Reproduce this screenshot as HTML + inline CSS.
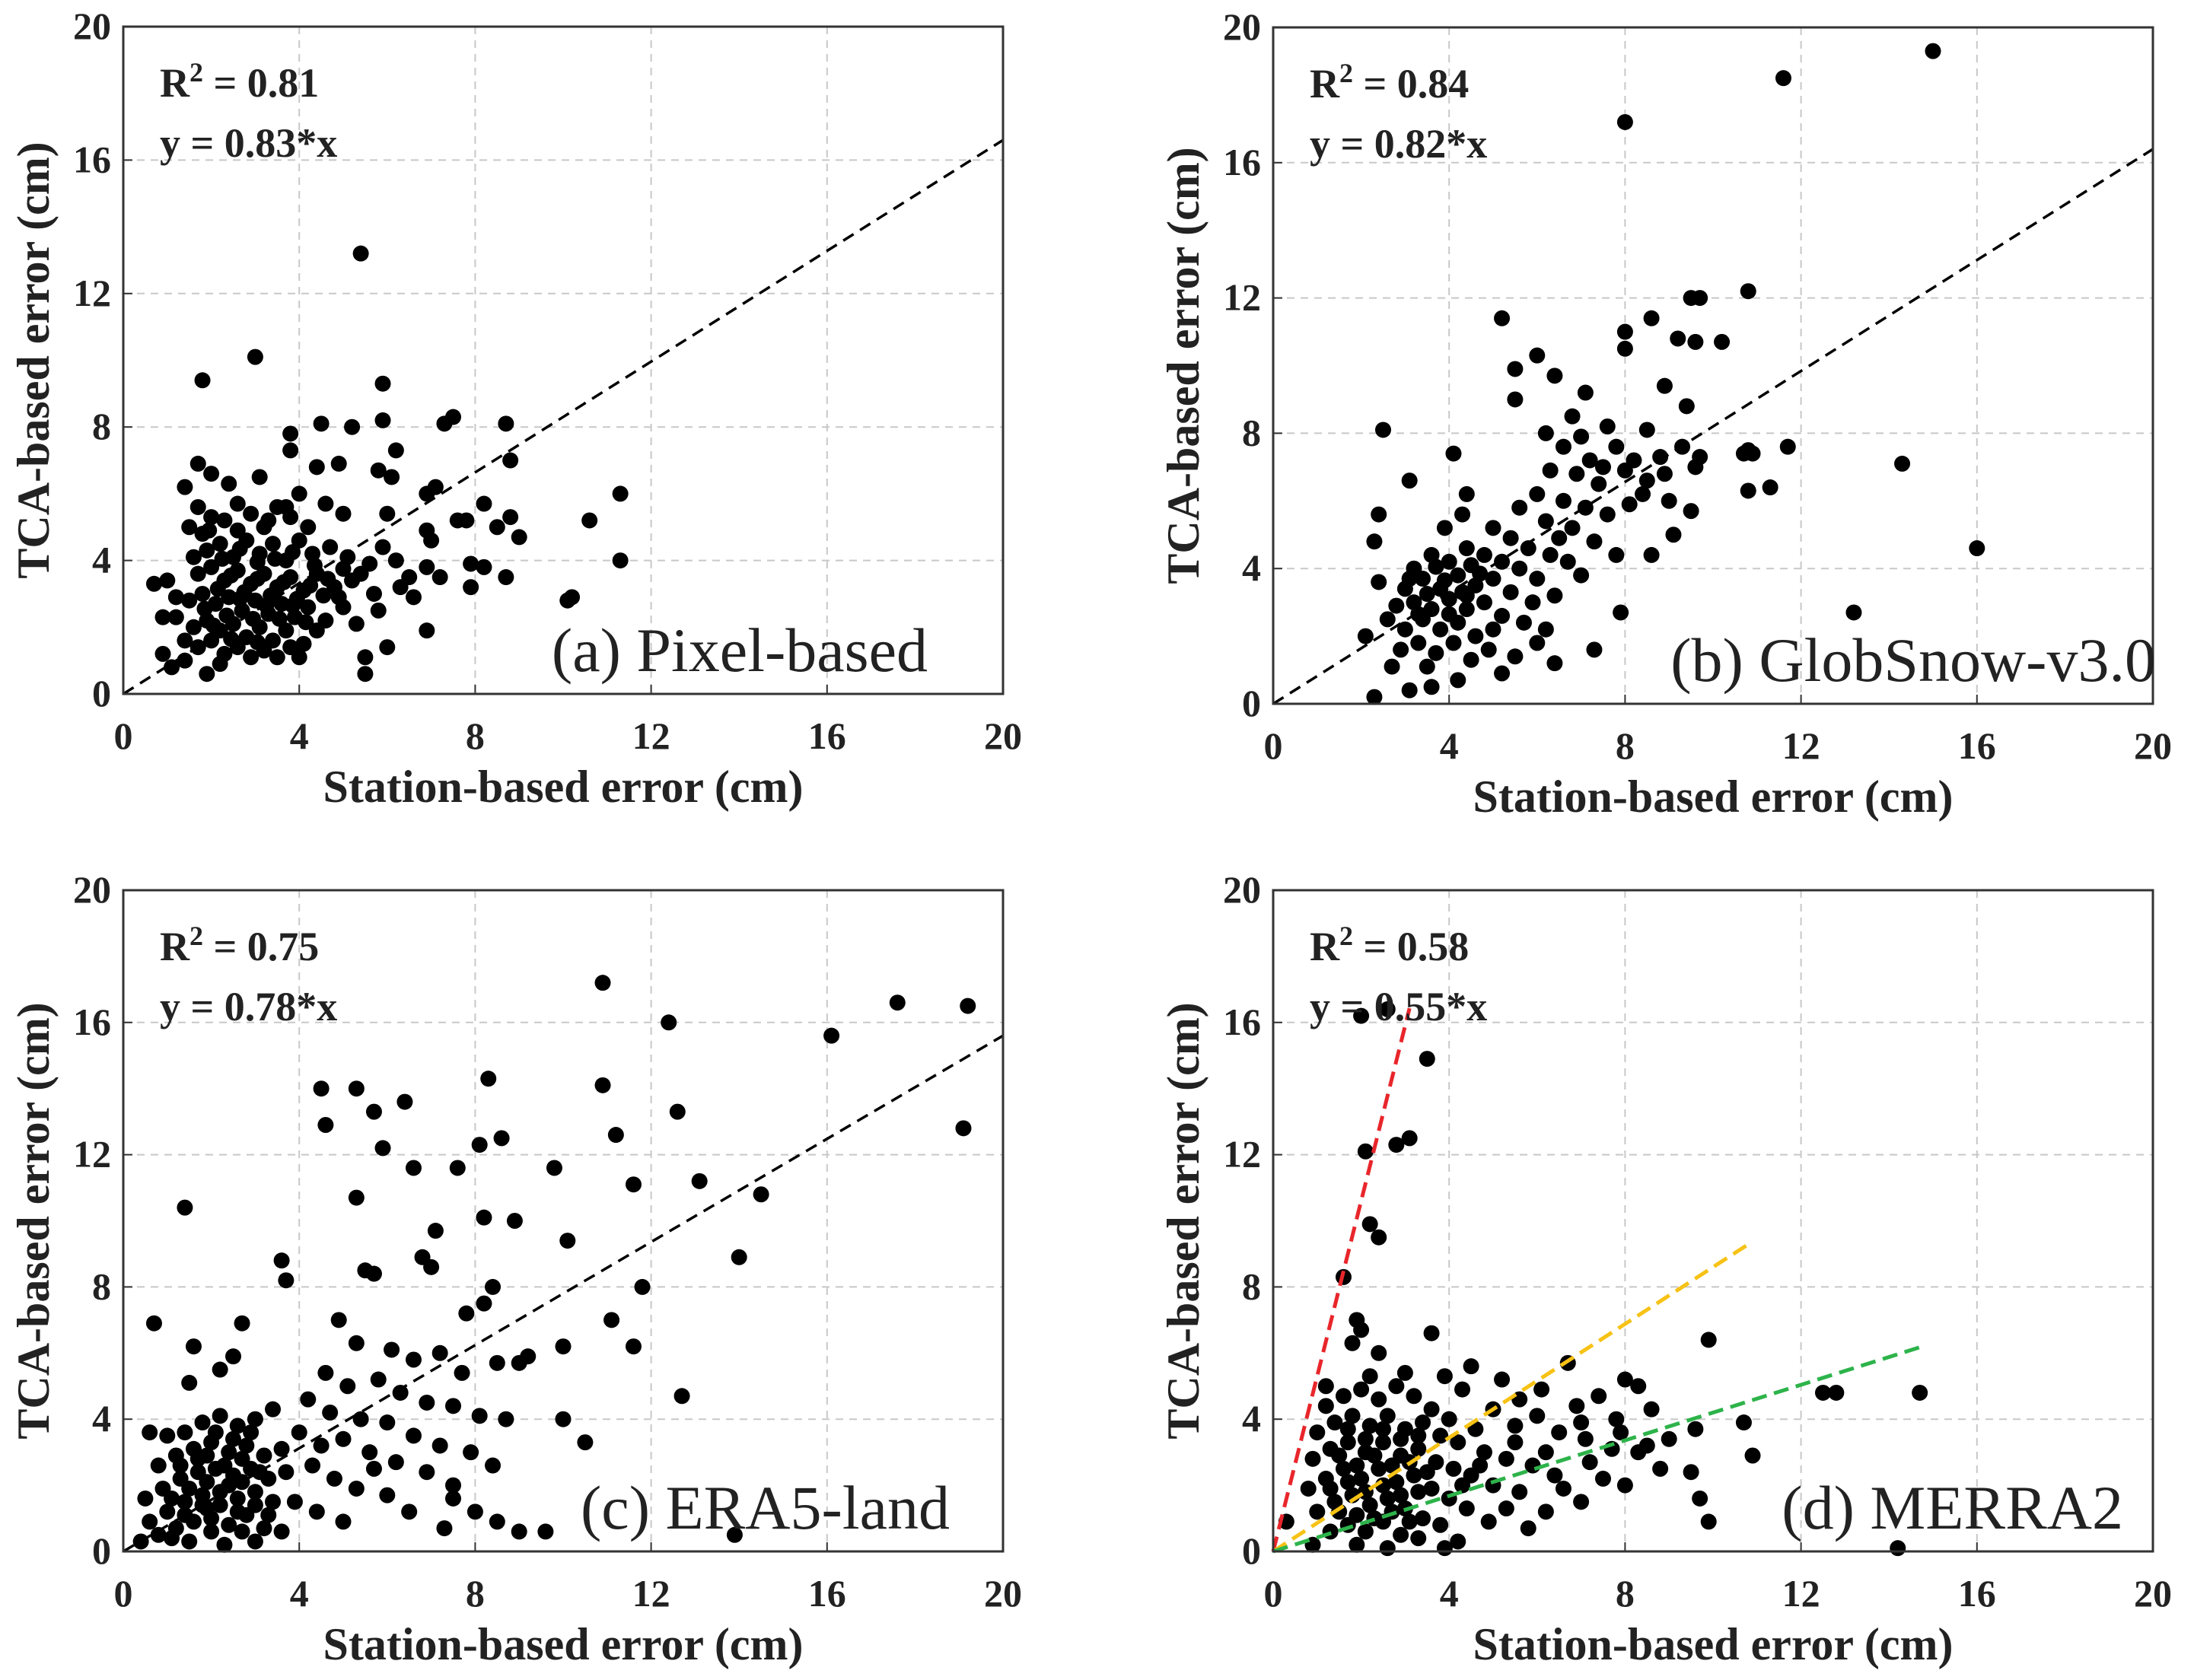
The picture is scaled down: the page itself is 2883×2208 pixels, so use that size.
<!DOCTYPE html>
<html><head><meta charset="utf-8"><style>
html,body{margin:0;padding:0;background:#fff}
svg{display:block}
text{font-family:"Liberation Serif",serif;fill:#222}
</style></head><body>
<svg id="fig" width="2883" height="2208" viewBox="0 0 2883 2208" xmlns="http://www.w3.org/2000/svg"></svg>
<script>
// ---- data ----
const ticks = [0,4,8,12,16,20];
const panelLabels = ["(a) Pixel-based","(b) GlobSnow-v3.0","(c) ERA5-land","(d) MERRA2"];
const r2Labels = ["0.81","0.84","0.75","0.58"];
const slopeLabels = ["y = 0.83*x","y = 0.82*x","y = 0.78*x","y = 0.55*x"];
const fitSlopes = [0.83,0.82,0.78,0.55];
const fitEnds = [20,20,20,0];
const ptsA = [[5.4,13.2],[3.0,10.1],[1.8,9.4],[5.9,9.3],[4.5,8.1],[5.2,8.0],[5.9,8.2],[7.3,8.1],[7.5,8.3],[8.7,8.1],[8.8,7.0],[3.8,7.8],[3.8,7.3],[4.9,6.9],[6.2,7.3],[5.8,6.7],[1.7,6.9],[2.0,6.6],[2.4,6.3],[3.1,6.5],[1.4,6.2],[4.0,6.0],[6.1,6.5],[7.1,6.2],[6.9,6.0],[4.4,6.8],[8.2,5.7],[11.3,6.0],[10.6,5.2],[9.0,4.7],[8.8,5.3],[8.5,5.0],[7.6,5.2],[7.8,5.2],[7.0,4.6],[6.9,4.9],[11.3,4.0],[10.2,2.9],[10.1,2.8],[8.7,3.5],[8.2,3.8],[7.9,3.9],[7.9,3.2],[7.2,3.5],[6.9,3.8],[6.9,1.9],[6.0,1.4],[5.5,1.1],[5.5,0.6],[1.9,0.6],[0.7,3.3],[0.9,2.3],[1.0,3.4],[1.2,2.3],[0.9,1.2],[1.1,0.8],[1.4,1.0],[5.0,5.4],[6.0,5.4],[5.9,4.4],[3.5,1.1],[4.0,1.1],[3.8,1.4],[2.2,0.9],
[1.5,5.0],[1.7,5.6],[1.8,4.8],[2.0,5.3],[2.3,5.2],[2.6,5.7],[2.9,5.4],[3.2,5.0],[3.5,5.6],[3.8,5.3],[4.2,5.0],[4.6,5.7],[1.6,4.1],[1.9,4.3],[2.2,4.5],[2.5,4.1],[2.8,4.6],[3.1,4.2],[3.4,4.5],[3.7,4.0],[4.0,4.6],[4.3,4.2],[4.7,4.4],[5.1,4.1],[5.4,3.6],[1.7,3.6],[2.0,3.8],[2.3,3.4],[2.6,3.7],[2.9,3.3],[3.2,3.6],[3.5,3.2],[3.8,3.5],[4.1,3.1],[4.4,3.6],[4.8,3.2],[5.2,3.4],[5.7,3.0],[6.3,3.2],[6.6,2.9],[1.5,2.8],[1.8,3.0],[2.1,2.7],[2.4,2.9],[2.7,2.5],[3.0,2.8],[3.3,2.4],[3.6,2.7],[3.9,2.3],[4.2,2.6],[4.6,2.2],[5.0,2.6],[5.3,2.1],[5.8,2.5],[1.6,2.0],[1.9,2.2],[2.2,1.9],[2.5,2.1],[2.8,1.7],[3.1,2.0],[3.4,1.6],[3.7,1.9],[4.1,1.5],[4.4,1.9],[1.7,1.4],[2.0,1.6],[2.3,1.2],[2.6,1.4],[2.9,1.1],[3.2,1.3],[1.4,1.6],[1.2,2.9],[4.9,2.9],[5.6,3.9],[6.2,4.0],[6.5,3.5],
[2.15,3.15],[2.45,3.55],[2.75,3.05],[3.05,3.45],[3.35,2.95],[3.65,3.35],[3.95,2.85],[4.25,3.25],[4.55,2.95],[2.35,2.35],[2.65,2.85],[2.95,2.25],[3.25,2.65],[3.55,2.25],[3.85,2.65],[4.15,2.15],[1.85,2.55],[2.05,2.05],[2.45,1.65],[3.05,1.55],[2.25,4.05],[2.65,4.35],[3.05,3.95],[3.45,4.05],[3.85,4.25],[4.35,3.85],[4.65,3.45],[5.0,3.75],[1.95,4.9],[2.6,4.9],[3.3,5.2],[3.7,5.6]];
const ptsB = [[15.0,19.3],[11.6,18.5],[8.0,17.2],[10.8,12.2],[9.5,12.0],[9.7,12.0],[8.6,11.4],[5.2,11.4],[8.0,11.0],[8.0,10.5],[9.2,10.8],[9.6,10.7],[10.2,10.7],[6.0,10.3],[5.5,9.9],[6.4,9.7],[7.1,9.2],[8.9,9.4],[5.5,9.0],[6.8,8.5],[7.6,8.2],[2.5,8.1],[8.5,8.1],[9.4,8.8],[10.8,7.5],[10.9,7.4],[11.7,7.6],[14.3,7.1],[16.0,4.6],[13.2,2.7],[10.8,6.3],[11.3,6.4],[9.6,7.0],[8.9,6.8],[8.5,6.6],[7.4,6.5],[7.9,2.7],[4.4,6.2],[4.1,7.4],[3.1,6.6],[2.3,4.8],[2.4,5.6],[2.1,2.0],[2.3,0.2],[3.1,0.4],[3.6,0.5],[4.2,0.7],[5.2,0.9],[5.5,1.4],[6.0,1.8],[6.4,1.2],[7.3,1.6],[8.6,4.4],[9.1,5.0],[9.5,5.7],[10.7,7.4],
[6.2,8.0],[6.6,7.6],[7.0,7.9],[7.2,7.2],[7.8,7.6],[8.2,7.2],[8.8,7.3],[9.3,7.6],[9.7,7.3],[6.3,6.9],[6.9,6.8],[7.5,7.0],[8.0,6.9],[8.4,6.2],[9.0,6.0],[6.0,6.2],[6.6,6.0],[7.1,5.8],[7.6,5.6],[8.1,5.9],[5.6,5.8],[6.2,5.4],[6.8,5.2],[7.3,4.8],[5.0,5.2],[5.4,4.9],[5.8,4.6],[6.3,4.4],[6.7,4.2],[7.0,3.8],[3.2,4.0],[3.6,4.4],[4.0,4.2],[4.4,4.6],[4.8,4.4],[5.2,4.2],[5.6,4.0],[6.0,3.7],[3.0,3.4],[3.4,3.7],[3.8,3.4],[4.2,3.8],[4.6,3.5],[5.0,3.7],[5.4,3.3],[5.9,3.0],[6.4,3.2],[2.8,2.9],[3.2,3.0],[3.6,2.8],[4.0,3.1],[4.4,2.8],[4.8,3.0],[5.2,2.6],[5.7,2.4],[6.2,2.2],[2.6,2.5],[3.0,2.2],[3.4,2.5],[3.8,2.2],[4.2,2.4],[4.6,2.0],[5.0,2.2],[2.9,1.6],[3.3,1.8],[3.7,1.5],[4.1,1.8],[4.5,1.3],[4.9,1.6],[2.7,1.1],[3.5,1.1],[2.4,3.6],[3.9,5.2],[4.3,5.6],[6.5,4.9],[7.8,4.4],
[3.5,3.25],[3.9,3.65],[4.3,3.3],[4.7,3.85],[3.3,2.65],[4.0,2.65],[4.4,3.2],[3.1,3.7],[3.7,4.05],[4.5,4.1]];
const ptsC = [[10.9,17.2],[17.6,16.6],[19.2,16.5],[12.4,16.0],[16.1,15.6],[8.3,14.3],[4.5,14.0],[5.3,14.0],[4.6,12.9],[5.7,13.3],[6.4,13.6],[10.9,14.1],[11.2,12.6],[12.6,13.3],[19.1,12.8],[5.9,12.2],[6.6,11.6],[7.6,11.6],[8.1,12.3],[8.6,12.5],[9.8,11.6],[13.1,11.2],[11.6,11.1],[14.5,10.8],[1.4,10.4],[5.3,10.7],[8.2,10.1],[7.1,9.7],[8.9,10.0],[10.1,9.4],[3.6,8.8],[3.7,8.2],[6.8,8.9],[7.0,8.6],[8.4,8.0],[8.2,7.5],[7.8,7.2],[5.7,8.4],[5.5,8.5],[11.8,8.0],[14.0,8.9],[11.1,7.0],[12.7,4.7],[11.6,6.2],[10.0,6.2],[9.2,5.9],[9.0,5.7],[0.7,6.9],[1.6,6.2],[2.7,6.9],[1.5,5.1],[2.2,5.5],[2.5,5.9],[13.9,0.5],[10.5,3.3],[10.0,4.0],[9.0,0.6],[8.5,0.9],[9.6,0.6],[8.0,1.2],[7.5,1.6],[7.3,0.7],[6.5,1.2],[5.7,2.5],
[4.9,7.0],[5.3,6.3],[6.1,6.1],[6.6,5.8],[7.2,6.0],[7.7,5.4],[8.5,5.7],[4.6,5.4],[5.1,5.0],[5.8,5.2],[6.3,4.8],[6.9,4.5],[7.5,4.4],[8.1,4.1],[8.7,4.0],[4.2,4.6],[4.7,4.2],[5.4,4.0],[6.0,3.9],[6.6,3.5],[7.2,3.2],[7.9,3.0],[8.4,2.6],[4.0,3.6],[4.5,3.2],[5.0,3.4],[5.6,3.0],[6.2,2.7],[6.9,2.4],[7.5,2.0],[4.3,2.6],[4.8,2.2],[5.3,1.9],[6.0,1.7],[3.9,1.5],[4.4,1.2],[5.0,0.9],[3.4,4.3],[3.0,4.0],[2.6,3.8],[2.2,4.1],[1.8,3.9],[1.4,3.6],[1.0,3.5],[0.6,3.6],[0.8,2.6],[1.2,2.9],[1.6,3.1],[2.0,3.3],[2.4,3.0],[2.8,3.2],[3.2,2.9],[3.6,3.1],[0.5,1.6],[0.9,1.9],[1.3,2.2],[1.7,2.4],[2.1,2.5],[2.5,2.3],[2.9,2.5],[3.3,2.2],[3.7,2.4],[0.6,0.9],[1.0,1.2],[1.4,1.5],[1.8,1.7],[2.2,1.8],[2.6,1.6],[3.0,1.8],[3.4,1.5],[0.4,0.3],[0.8,0.5],[1.2,0.7],[1.6,0.9],[2.0,1.0],[2.4,0.8],[2.8,1.1],[3.2,0.7],[3.6,0.6],[1.5,0.3],[2.3,0.2],[3.0,0.3],[1.9,2.9],[2.7,2.8],[2.4,2.0],[1.9,1.3],
[1.1,1.6],[1.5,1.9],[1.9,2.1],[2.3,2.6],[2.7,2.1],[3.1,2.4],[1.3,2.6],[1.7,2.8],[2.1,3.6],[2.5,3.4],[2.9,3.6],[1.4,1.1],[1.8,1.4],[2.2,1.4],[2.6,1.2],[3.0,1.4],[2.0,0.6],[2.7,0.6],[1.1,0.4],[3.3,1.1]];
const ptsD = [[2.6,16.4],[2.0,16.2],[3.5,14.9],[2.1,12.1],[2.8,12.3],[3.1,12.5],[2.2,9.9],[2.4,9.5],[1.6,8.3],[1.9,7.0],[2.0,6.7],[3.6,6.6],[1.8,6.3],[2.4,6.0],[4.5,5.6],[5.2,5.2],[6.7,5.7],[8.0,5.2],[8.3,5.0],[9.9,6.4],[12.5,4.8],[12.8,4.8],[14.7,4.8],[10.7,3.9],[10.9,2.9],[9.6,3.7],[9.5,2.4],[9.7,1.6],[9.9,0.9],[14.2,0.1],[8.8,2.5],[8.3,3.0],[7.5,2.2],[7.0,1.5],[6.2,1.2],[5.8,0.7],[4.9,0.9],[4.2,0.3],[3.9,0.1],[0.3,0.9],[0.9,0.2],
[3.9,5.3],[4.3,4.9],[5.6,4.6],[6.1,4.9],[6.9,4.4],[7.4,4.7],[7.8,4.0],[8.6,4.3],[9.0,3.4],[5.0,4.3],[5.5,3.8],[6.0,4.1],[6.5,3.6],[7.1,3.4],[7.7,3.1],[1.2,4.4],[1.6,4.7],[2.0,4.9],[2.4,4.6],[2.8,5.0],[3.2,4.7],[3.6,4.3],[4.0,4.0],[4.6,3.7],[1.0,3.6],[1.4,3.9],[1.8,4.1],[2.2,3.8],[2.6,4.1],[3.0,3.7],[3.4,3.9],[3.8,3.5],[4.2,3.3],[4.8,3.0],[5.3,2.8],[5.9,2.6],[6.4,2.3],[0.9,2.8],[1.3,3.1],[1.7,3.3],[2.1,3.0],[2.5,3.3],[2.9,2.9],[3.3,3.1],[3.7,2.7],[4.1,2.5],[4.5,2.3],[5.0,2.0],[5.6,1.8],[0.8,1.9],[1.2,2.2],[1.6,2.5],[2.0,2.2],[2.4,2.5],[2.8,2.1],[3.2,2.3],[3.6,1.9],[4.0,1.6],[4.4,1.3],[1.0,1.2],[1.4,1.5],[1.8,1.7],[2.2,1.4],[2.6,1.6],[3.0,1.3],[3.4,1.0],[3.8,0.8],[1.3,0.6],[1.7,0.8],[2.1,0.6],[2.5,0.9],[2.9,0.5],[3.3,0.4],[1.9,0.2],[2.6,0.1],[7.2,2.7],[8.0,2.0],[6.6,1.9],[5.3,1.3],
[1.5,2.9],[1.9,2.6],[2.3,2.9],[2.7,2.6],[3.1,2.7],[3.5,2.4],[1.7,3.7],[2.1,3.4],[2.5,3.7],[2.9,3.4],[3.3,3.5],[1.3,1.9],[1.7,2.1],[2.1,1.8],[2.5,2.0],[2.9,1.7],[3.3,1.8],[1.5,1.2],[1.9,1.1],[2.3,1.0],[2.7,1.2],[3.1,0.9],[4.3,2.0],[4.7,2.6],[5.5,3.3],[6.2,3.0],[7.0,3.9],[7.9,3.6],[8.5,3.2],[1.2,5.0],[2.2,5.3],[3.0,5.4]];
const allPts = [ptsA,ptsB,ptsC,ptsD];
const extraSlopes = [5.3,0.86,0.42];
const extraEnds = [3.1,10.8,14.7];
const extraColors = ["#e8262b","#f7c215","#2db34a"];
// ---- layout ----
const boxes = [
 {l:162,r:1318,t:35,b:912,lr:99},
 {l:1673,r:2829,t:36,b:925,lr:-4},
 {l:162,r:1318,t:1170,b:2039,lr:70},
 {l:1673,r:2829,t:1170,b:2039,lr:39}];
const NS="http://www.w3.org/2000/svg";
const svg=document.getElementById('fig');
function mk(tag,attrs,parent){const e=document.createElementNS(NS,tag);for(const k in attrs)e.setAttribute(k,attrs[k]);(parent||svg).appendChild(e);return e;}
const names=["a","b","c","d"];
boxes.forEach((B,i)=>{
 const g=mk('g',{});
 
 
 const xs=v=>B.l+(B.r-B.l)*v/20, ys=v=>B.b-(B.b-B.t)*v/20;
 ticks.forEach(t=>{
  if(t>0&&t<20){
   const gx=mk('line',{x1:xs(t),x2:xs(t),y1:B.t,y2:B.b,stroke:'#c8c8c8','stroke-width':2,'stroke-dasharray':'10,8'},g);
   
   
   const gy=mk('line',{x1:B.l,x2:B.r,y1:ys(t),y2:ys(t),stroke:'#c8c8c8','stroke-width':2,'stroke-dasharray':'10,8'},g);
   
   
  }
  const tx=mk('text',{x:xs(t),y:B.b+72,'text-anchor':'middle','font-size':50,'font-weight':'bold'},g);tx.textContent=t;
  
  
  const ty=mk('text',{x:B.l-16,y:ys(t)+16,'text-anchor':'end','font-size':50,'font-weight':'bold'},g);ty.textContent=t;
  
  
  mk('line',{x1:xs(t),x2:xs(t),y1:B.b,y2:B.b-12,stroke:'#333','stroke-width':2},g);
  mk('line',{x1:B.l,x2:B.l+12,y1:ys(t),y2:ys(t),stroke:'#333','stroke-width':2},g);
 });
 allPts[i].forEach(p=>{
  const c=mk('circle',{cx:xs(p[0]),cy:ys(p[1]),r:10.5,fill:'#000'},g);
  
  
 });
 if(fitEnds[i]>0){
  const fl=mk('line',{x1:xs(0),y1:ys(0),x2:xs(fitEnds[i]),y2:ys(fitSlopes[i]*fitEnds[i]),stroke:'#000','stroke-width':3.5,'stroke-dasharray':'16,10'},g);
  
  
 } else {
  extraSlopes.forEach((s,k)=>{
   const el=mk('line',{x1:xs(0),y1:ys(0),x2:xs(extraEnds[k]),y2:ys(s*extraEnds[k]),stroke:extraColors[k],'stroke-width':5,'stroke-dasharray':'20,10'},g);
   
   
  });
 }
 const fr=mk('rect',{x:B.l,y:B.t,width:B.r-B.l,height:B.b-B.t,fill:'none',stroke:'#333','stroke-width':3},g);
 
 
 const r2=mk('text',{x:B.l+48,y:B.t+92,'font-size':54,'font-weight':'bold'},g);
 r2.innerHTML='R<tspan dy="-20" font-size="36">2</tspan><tspan dy="20"> = '+r2Labels[i]+'</tspan>';
 
 
 const sl=mk('text',{x:B.l+48,y:B.t+171,'font-size':54,'font-weight':'bold'},g);sl.textContent=slopeLabels[i];
 
 
 const pl=mk('text',{x:B.r-B.lr,y:B.b-30,'text-anchor':'end','font-size':82},g);pl.textContent=panelLabels[i];
 
 
 const xl=mk('text',{x:(B.l+B.r)/2,y:B.b+142,'text-anchor':'middle','font-size':60,'font-weight':'bold'},g);xl.textContent='Station-based error (cm)';
 
 
 const cy=(B.t+B.b)/2, cx=B.l-98;
 const yl=mk('text',{x:cx,y:cy,'text-anchor':'middle','font-size':60,'font-weight':'bold',transform:'rotate(-90 '+cx+' '+cy+')'},g);yl.textContent='TCA-based error (cm)';
 
 
});
</script>
</body></html>
